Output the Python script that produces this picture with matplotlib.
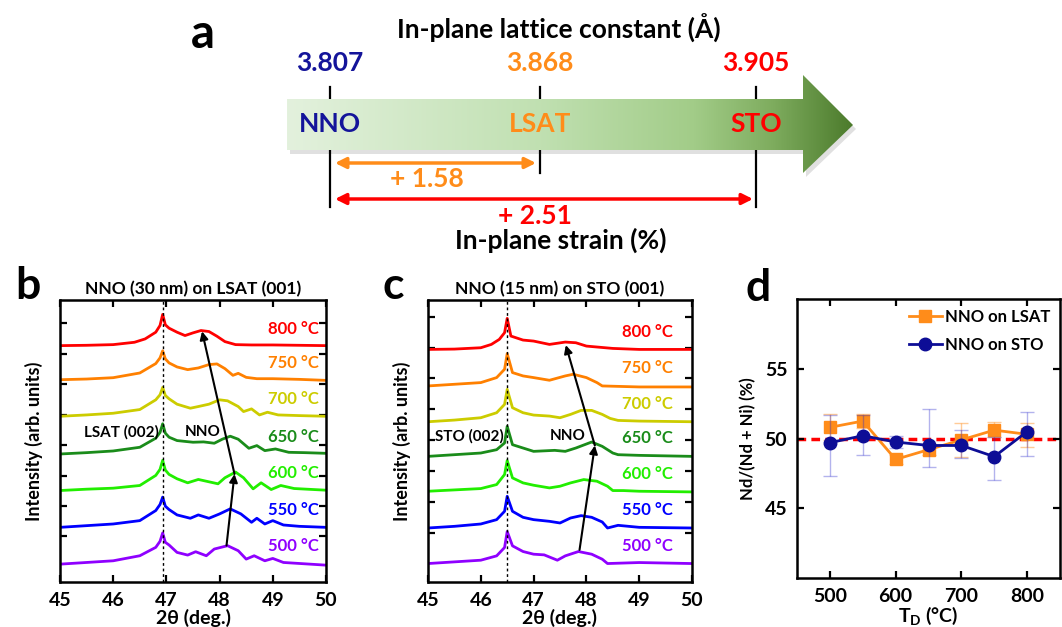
import numpy as np
import matplotlib.pyplot as plt
from matplotlib.patches import Polygon
from matplotlib.lines import Line2D
from matplotlib.colors import LinearSegmentedColormap

plt.rcParams['font.family'] = ['Lato', 'DejaVu Sans']
plt.rcParams['font.weight'] = 'bold'
plt.rcParams['axes.labelweight'] = 'bold'
plt.rcParams['axes.titleweight'] = 'bold'
plt.rcParams['mathtext.fontset'] = 'custom'
plt.rcParams['mathtext.rm'] = 'Lato:bold'
plt.rcParams['mathtext.default'] = 'rm'

# ---- data ----
# panel a
substrates = ['NNO', 'LSAT', 'STO']
lattice = [3.807, 3.868, 3.905]
strain = [1.58, 2.51]
sub_colors = ['#14149a', '#ff8c1a', '#ff0000']

# panels b, c (XRD, relative intensity, 1 tick ~ 90 arb.)
temps = [500, 550, 600, 650, 700, 750, 800]
curve_colors = ['#8f00ff', '#0000ff', '#22ee00', '#1a8c1a', '#cccc00', '#ff8000', '#ff0000']

b_x = [
    [45.0, 45.5, 46.0, 46.5, 46.8, 46.88, 46.93, 46.98, 47.05, 47.2, 47.4, 47.55, 47.75, 47.9, 48.15, 48.35, 48.5, 48.65, 48.85, 49.0, 49.2, 49.5, 50.0],
    [45.0, 45.5, 46.0, 46.5, 46.8, 46.88, 46.93, 46.98, 47.05, 47.2, 47.45, 47.6, 47.8, 48.0, 48.2, 48.4, 48.6, 48.7, 48.85, 49.0, 49.2, 49.5, 50.0],
    [45.0, 45.5, 46.0, 46.5, 46.8, 46.88, 46.93, 46.98, 47.05, 47.2, 47.4, 47.6, 47.97, 48.1, 48.3, 48.45, 48.63, 48.78, 48.97, 49.15, 49.4, 50.0],
    [45.0, 45.5, 46.0, 46.5, 46.8, 46.88, 46.93, 46.98, 47.05, 47.2, 47.5, 47.7, 47.9, 48.05, 48.2, 48.35, 48.55, 48.7, 48.85, 49.05, 49.3, 49.6, 50.0],
    [45.0, 45.5, 46.0, 46.5, 46.8, 46.88, 46.93, 46.98, 47.05, 47.2, 47.45, 47.6, 47.8, 48.0, 48.15, 48.35, 48.45, 48.6, 48.75, 48.9, 49.1, 49.5, 50.0],
    [45.0, 45.5, 46.0, 46.5, 46.8, 46.88, 46.93, 46.98, 47.05, 47.2, 47.4, 47.6, 47.8, 47.95, 48.1, 48.25, 48.35, 48.5, 48.7, 49.0, 49.5, 50.0],
    [45.0, 45.5, 46.0, 46.4, 46.6, 46.8, 46.88, 46.93, 46.98, 47.05, 47.2, 47.35, 47.5, 47.65, 47.8, 47.95, 48.1, 48.3, 48.6, 49.0, 49.5, 50.0],
]
b_I = [
    [-3, 2, 7, 22, 47, 65, 90, 62, 54, 32, 24, 34, 22, 42, 52, 37, 12, 22, 7, 14, 2, -1, -6],
    [-3, 2, 7, 17, 47, 65, 87, 60, 50, 34, 24, 34, 24, 37, 52, 37, 12, 24, 7, 17, 4, 0, -3],
    [-3, 1, 4, 12, 42, 60, 87, 58, 45, 32, 20, 30, 17, 35, 52, 35, 2, 20, 0, 12, 3, -2],
    [-2, 2, 7, 18, 45, 62, 88, 60, 48, 38, 33, 34, 30, 42, 51, 42, 15, 23, 8, 13, 3, 2, 0],
    [-2, 2, 7, 18, 47, 62, 84, 60, 50, 34, 22, 27, 34, 47, 44, 27, 12, 20, 2, 10, 2, 0, -2],
    [0, 2, 6, 20, 48, 65, 86, 62, 50, 38, 30, 35, 45, 47, 33, 13, 19, 7, 3, 3, 1, -2],
    [0, 1, 3, 10, 20, 40, 60, 93, 62, 52, 40, 30, 38, 45, 42, 28, 12, 3, 2, 2, 1, 0],
]
b_off = [0.12, 1.33, 2.54, 3.73, 4.97, 6.15, 7.27]

c_x = [
    [45.0, 45.5, 46.0, 46.3, 46.45, 46.5, 46.6, 46.8, 47.0, 47.2, 47.45, 47.6, 47.85, 48.1, 48.3, 48.4, 49.0, 50.0],
    [45.0, 45.5, 46.0, 46.3, 46.45, 46.5, 46.6, 46.8, 47.0, 47.3, 47.5, 47.7, 47.9, 48.1, 48.3, 48.4, 48.6, 49.0, 50.0],
    [45.0, 45.5, 46.0, 46.3, 46.45, 46.5, 46.6, 46.8, 47.0, 47.3, 47.5, 47.7, 47.95, 48.2, 48.4, 48.5, 48.7, 49.0, 50.0],
    [45.0, 45.5, 46.0, 46.3, 46.45, 46.5, 46.6, 46.8, 47.0, 47.4, 47.6, 47.8, 48.1, 48.3, 48.5, 48.6, 49.0, 50.0],
    [45.0, 45.5, 46.0, 46.3, 46.45, 46.5, 46.6, 46.8, 47.0, 47.3, 47.5, 47.7, 47.9, 48.1, 48.3, 48.45, 48.6, 49.0, 50.0],
    [45.0, 45.5, 46.0, 46.3, 46.45, 46.5, 46.6, 46.8, 47.0, 47.3, 47.6, 47.75, 48.0, 48.2, 48.3, 49.0, 50.0],
    [45.0, 45.5, 46.0, 46.2, 46.35, 46.45, 46.5, 46.57, 46.8, 47.0, 47.3, 47.6, 47.8, 48.0, 48.5, 49.0, 50.0],
]
c_I = [
    [-3, 2, 7, 20, 45, 93, 50, 33, 25, 23, 7, 20, 33, 25, 10, -3, 0, -3],
    [-2, 3, 10, 23, 48, 93, 48, 30, 23, 18, 13, 28, 35, 30, 16, -2, 6, 0, -2],
    [-2, 2, 6, 18, 48, 90, 38, 23, 16, 8, 13, 23, 33, 28, 13, 0, 0, -2, -4],
    [-3, 2, 7, 17, 37, 87, 32, 22, 12, 15, 12, 22, 40, 27, 7, 2, 0, -3],
    [-2, 3, 10, 25, 50, 95, 40, 25, 18, 15, 10, 20, 32, 32, 20, 8, 2, 0, -2],
    [-3, 2, 7, 22, 47, 94, 37, 27, 22, 14, 27, 32, 22, 7, -3, -6, -6],
    [0, 1, 5, 15, 30, 50, 93, 40, 28, 25, 15, 22, 20, 10, 3, 0, 0],
]
c_off = [0.04, 1.18, 2.37, 3.51, 4.62, 5.79, 6.94]

# panel d
t_dep = [500, 550, 600, 650, 700, 750, 800]
lsat_ratio = [50.8, 51.25, 48.5, 49.2, 49.9, 50.6, 50.3]
lsat_lo = [0.9, 0.5, 0.3, 0.4, 1.2, 0.5, 0.9]
lsat_hi = [0.95, 0.5, 0.3, 0.4, 1.2, 0.55, 0.8]
sto_ratio = [49.7, 50.2, 49.75, 49.5, 49.5, 48.7, 50.5]
sto_lo = [2.4, 1.4, 0.45, 1.55, 0.9, 1.65, 1.75]
sto_hi = [2.0, 1.5, 0.45, 2.65, 1.1, 1.4, 1.4]

# ---- figure ----
W, H = 1062, 627
fig = plt.figure(figsize=(W / 100, H / 100), dpi=100)


def px_axes(l, t, r, b):
    return fig.add_axes([l / W, 1 - b / H, (r - l) / W, (b - t) / H])


# panel a drawn on a full-figure overlay in pixel units
ax0 = fig.add_axes([0, 0, 1, 1])
arrow_pts = [(287, 99), (803, 99), (803, 75), (853, 125), (803, 173), (803, 150), (287, 150)]
ax0.add_patch(Polygon([(x + 3, y + 4) for x, y in arrow_pts], closed=True,
                      fc='k', ec='none', alpha=0.12, zorder=1))
body = Polygon(arrow_pts, closed=True, fc='none', ec='none', zorder=2)
ax0.add_patch(body)
cmap = LinearSegmentedColormap.from_list('g', [(0, '#e3f1dd'), (0.45, '#c0e0b1'), (0.72, '#a2cc88'),
                                               (0.86, '#7eac5e'), (1, '#4c7b2c')])
im = ax0.imshow(np.linspace(0, 1, 256).reshape(1, -1), cmap=cmap, extent=(287, 853, 173, 75),
                aspect='auto', zorder=2)
im.set_clip_path(body)

col_x = [330, 540, 756]
tick_bot = [207, 173, 207]
for i in range(3):
    ax0.plot([col_x[i], col_x[i]], [87, tick_bot[i]], color='k', lw=1.6, zorder=1)
    ax0.text(col_x[i], 63, f'{lattice[i]:.3f}', color=sub_colors[i], fontsize=19,
             ha='center', va='center')
    ax0.text(col_x[i], 124, substrates[i], color=sub_colors[i], fontsize=19,
             ha='center', va='center', zorder=3)

ax0.annotate('', xy=(536, 163), xytext=(335, 163),
             arrowprops=dict(arrowstyle='<|-|>', color='#ff8c1a', lw=2.5,
                             mutation_scale=16, shrinkA=0, shrinkB=0))
ax0.annotate('', xy=(753, 199), xytext=(335, 199),
             arrowprops=dict(arrowstyle='<|-|>', color='#ff0000', lw=2.5,
                             mutation_scale=16, shrinkA=0, shrinkB=0))
ax0.text(427, 179, f'+ {strain[0]:.2f}', color='#ff8c1a', fontsize=19, ha='center', va='center')
ax0.text(535, 216, f'+ {strain[1]:.2f}', color='#ff0000', fontsize=19, ha='center', va='center')
ax0.text(559, 28, 'In-plane lattice constant (Å)', fontsize=19, ha='center', va='center')
ax0.text(561, 240, 'In-plane strain (%)', fontsize=19, ha='center', va='center')
ax0.text(203, 34, 'a', fontsize=34, ha='center', va='center')
ax0.text(28, 286, 'b', fontsize=32, ha='center', va='center')
ax0.text(393, 286, 'c', fontsize=32, ha='center', va='center')
ax0.text(758, 288, 'd', fontsize=32, ha='center', va='center')
ax0.set_xlim(0, W)
ax0.set_ylim(H, 0)
ax0.axis('off')


def xrd_panel(ax, xs, Is, offs, unit, peak, ylim, lab_x, sub_label, title, arrow):
    for i in range(len(temps)):
        y = offs[i] + np.array(Is[i]) / unit
        ax.plot(xs[i], y, color=curve_colors[i], lw=2)
        ax.text(lab_x, offs[i] + 0.55, f'{temps[i]} °C', color=curve_colors[i],
                ha='right', va='center', fontsize=12)
    ax.axvline(peak, color='k', ls=(0, (2, 2)), lw=1)
    (x0, y0), (x1, y1), (x2, y2) = arrow
    ap = dict(arrowstyle='-|>', color='k', lw=1.5, mutation_scale=12, shrinkA=0, shrinkB=0)
    ax.annotate('', xy=(x1, y1), xytext=(x0, y0), arrowprops=ap)
    ax.annotate('', xy=(x2, y2), xytext=(x1, y1), arrowprops=ap)
    ax.text(peak - 0.07, sub_label[1], sub_label[0], ha='right', va='center', fontsize=11)
    ax.text(sub_label[2], sub_label[1], 'NNO', ha='center', va='center', fontsize=11)
    ax.set_xlim(45, 50)
    ax.set_ylim(*ylim)
    ax.set_xticks(range(45, 51))
    ax.set_yticks(range(1, 9))
    ax.set_yticklabels([])
    ax.tick_params(direction='in', top=True, right=True, width=1.6, length=5, labelsize=14, pad=7)
    for s in ax.spines.values():
        s.set_linewidth(1.8)
    ax.set_title(title, fontsize=12.5, pad=4)
    ax.set_xlabel('2θ (deg.)', fontsize=14, labelpad=0)
    ax.set_ylabel('Intensity (arb. units)', fontsize=13, labelpad=5)


axb = px_axes(60, 300, 326, 582)
xrd_panel(axb, b_x, b_I, b_off, 90.6, 46.93, (-0.5, 8.77), 49.86,
          ('LSAT (002)', 4.43, 47.69), 'NNO (30 nm) on LSAT (001)',
          [(48.13, 0.70), (48.28, 3.05), (47.67, 7.74)])

axc = px_axes(428, 300, 692, 582)
xrd_panel(axc, c_x, c_I, c_off, 92.5, 46.5, (-0.59, 8.54), 49.64,
          ('STO (002)', 4.14, 47.65), 'NNO (15 nm) on STO (001)',
          [(47.87, 0.45), (48.16, 3.83), (47.61, 7.08)])

# panel d
orange, navy = '#ff8c1a', '#0d0d96'
axd = px_axes(797, 299, 1060, 578)
axd.axhline(50, color='#ff0000', ls=(0, (2.5, 1.5)), lw=2.5, zorder=1)
axd.errorbar(t_dep, lsat_ratio, yerr=[lsat_lo, lsat_hi], color=orange, marker='s', ms=8, lw=2,
             ecolor=(1, 0.55, 0.1, 0.45), elinewidth=1, capsize=5, zorder=3)
axd.errorbar(t_dep, sto_ratio, yerr=[sto_lo, sto_hi], color=navy, marker='o', ms=9, lw=2,
             ecolor=(0.15, 0.15, 0.8, 0.35), elinewidth=1, capsize=5, zorder=4)
handles = [Line2D([], [], color=orange, marker='s', ms=8, lw=2),
           Line2D([], [], color=navy, marker='o', ms=9, lw=2)]
axd.legend(handles, ['NNO on LSAT', 'NNO on STO'], loc='upper right', frameon=False,
           fontsize=12, handlelength=2.0, handletextpad=0.15, borderaxespad=0.2,
           labelspacing=0.7)
axd.set_xlim(450, 850)
axd.set_ylim(40, 60)
axd.set_xticks([500, 600, 700, 800])
axd.set_yticks([45, 50, 55])
axd.tick_params(direction='in', top=True, right=True, width=1.6, length=5, labelsize=14, pad=7)
for s in axd.spines.values():
    s.set_linewidth(1.8)
axd.set_xlabel('T$_{D}$ (°C)', fontsize=14, labelpad=0)
axd.set_ylabel('Nd/(Nd + Ni) (%)', fontsize=12, labelpad=6)

fig.savefig('out.png', dpi=100)
